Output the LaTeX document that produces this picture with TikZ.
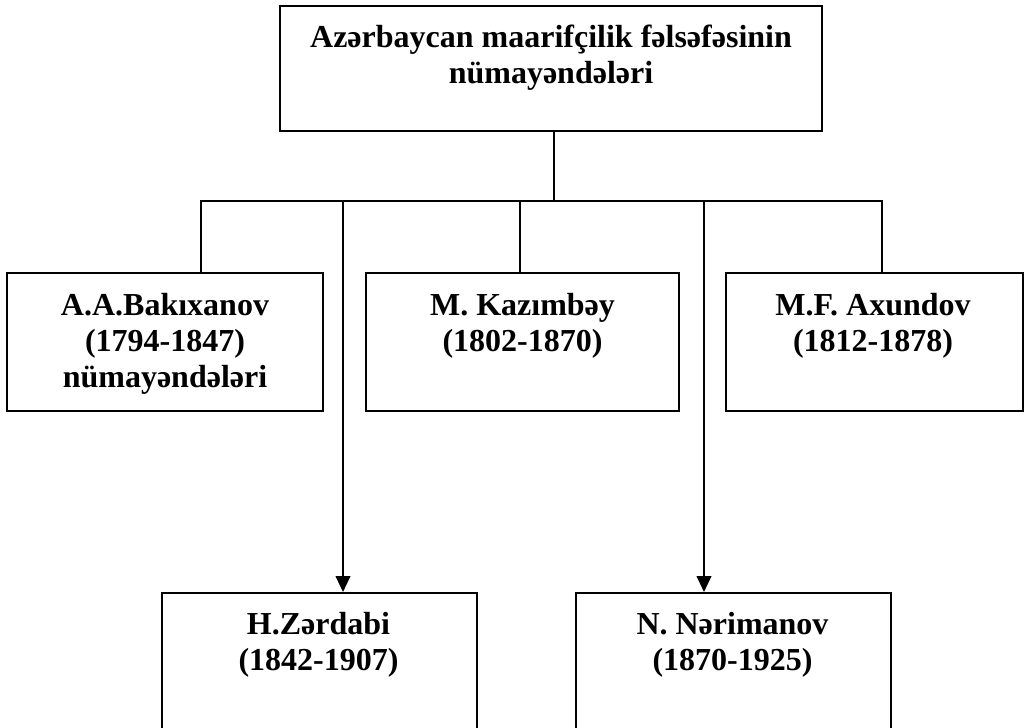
\documentclass[tikz,border=0pt]{standalone}
\usepackage{fontspec}
\setmainfont{Liberation Serif}
\usetikzlibrary{arrows.meta}
\begin{document}
\begin{tikzpicture}[x=0.75pt,y=-0.75pt,
  box/.style={draw,line width=1.5pt,inner sep=0pt,rectangle},
  lbl/.style={align=center,anchor=base,inner sep=0pt,font=\fontsize{24pt}{27pt}\selectfont\bfseries},
  conn/.style={line width=1.5pt},
  arr/.style={line width=1.5pt,-{Triangle[length=12pt,width=11pt]}}]
\clip (0,0) rectangle (1026,728);
\fill[white] (0,0) rectangle (1026,728);
% boxes
\node[box,minimum width=542*0.75pt,minimum height=125*0.75pt] (top) at (551,68.5) {};
\node[box,minimum width=316*0.75pt,minimum height=138*0.75pt] (aa) at (165,342) {};
\node[box,minimum width=313*0.75pt,minimum height=138*0.75pt] (mk) at (522.5,342) {};
\node[box,minimum width=297*0.75pt,minimum height=138*0.75pt] (mf) at (874.5,342) {};
\node[box,minimum width=315*0.75pt,minimum height=167*0.75pt] (hz) at (319.5,676.5) {};
\node[box,minimum width=315*0.75pt,minimum height=167*0.75pt] (nn) at (733.5,676.5) {};
% texts (anchor = baseline of the last line)
\node[lbl] (topt) at (551,83) {Azərbaycan maarifçilik fəlsəfəsinin\\nümayəndələri};
\node[lbl] (aat) at (165,387) {A.A.Bakıxanov\\(1794-1847)\\nümayəndələri};
\node[lbl] (mkt) at (522.5,351) {M. Kazımbəy\\(1802-1870)};
\node[lbl] (mft) at (873,351) {M.F. Axundov\\(1812-1878)};
\node[lbl] (hzt) at (318.5,670) {H.Zərdabi\\(1842-1907)};
\node[lbl] (nnt) at (732.5,670) {N. Nərimanov\\(1870-1925)};
% connectors
\coordinate (hub) at (554,201);
\coordinate (busL) at (201,201);
\coordinate (busR) at (882,201);
\coordinate (dM) at (520,201);
\coordinate (ar1) at (343,201);
\coordinate (ar2) at (704,201);
\draw[conn] (top.south -| hub) -- (hub);
\draw[conn] (busL |- aa.north) -- (busL) -- (busR) -- (busR |- mf.north);
\draw[conn] (dM) -- (dM |- mk.north);
\draw[arr] (ar1) -- (ar1 |- hz.north);
\draw[arr] (ar2) -- (ar2 |- nn.north);
\end{tikzpicture}
\end{document}
